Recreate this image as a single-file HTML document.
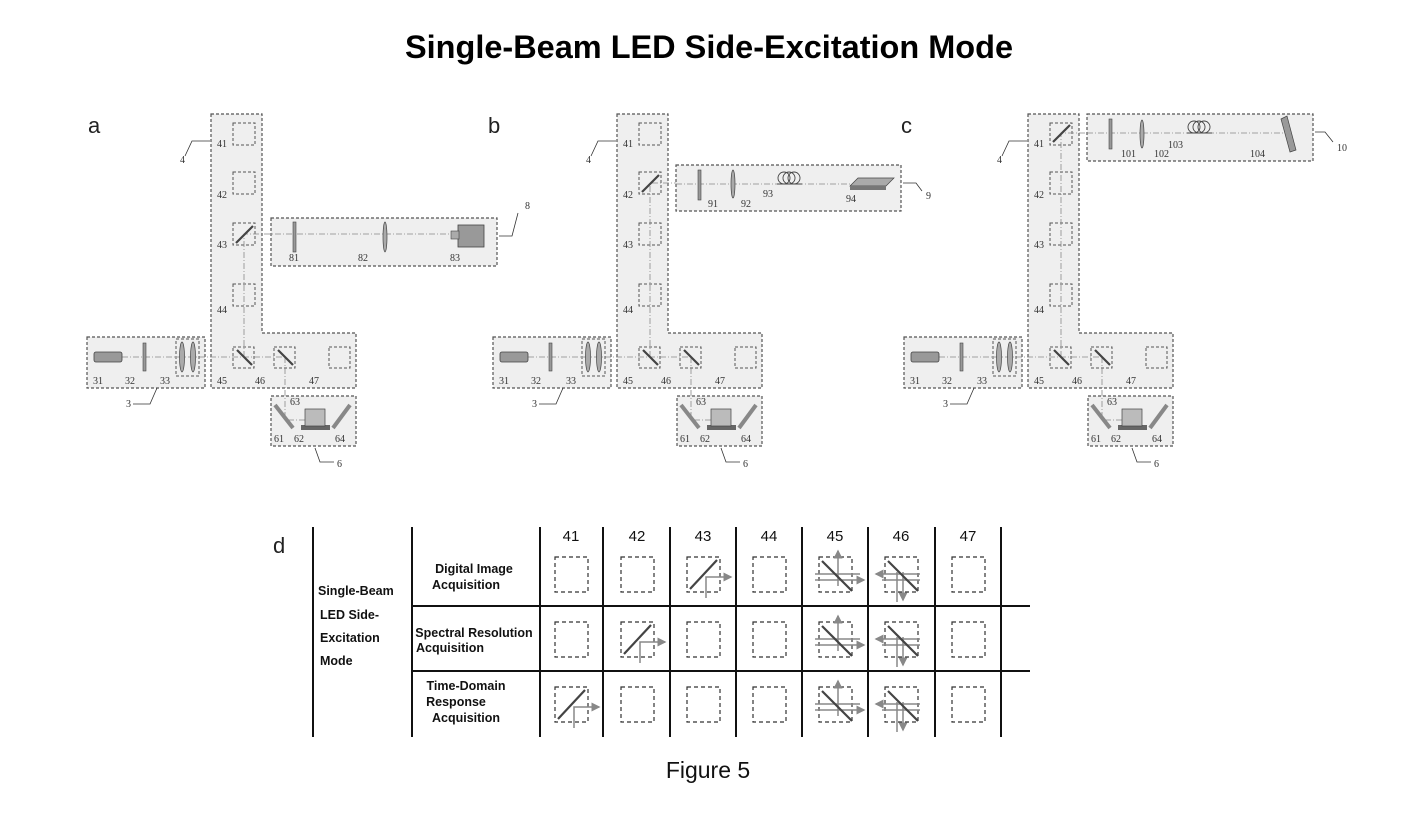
<!DOCTYPE html>
<html><head><meta charset="utf-8"><style>
html,body{margin:0;padding:0;background:#fff;width:1416px;height:818px;overflow:hidden}
svg{display:block}
.r{fill:#efefef;stroke:#555;stroke-width:1.2;stroke-dasharray:3,2}
.b{fill:none;stroke:#555;stroke-width:1;stroke-dasharray:3,2}
.bm{stroke:#888;stroke-width:0.8;stroke-dasharray:6,2,1,2;fill:none}
.t{font-family:"Liberation Serif",serif;font-size:10px;fill:#333}
.l{stroke:#333;stroke-width:0.8;fill:none}
.m{stroke:#444;stroke-width:2.2}
.tb{font-family:"Liberation Sans",sans-serif;font-size:12.5px;font-weight:bold;fill:#111}
.hd{font-family:"Liberation Sans",sans-serif;font-size:15px;fill:#111}
.db{fill:none;stroke:#333;stroke-width:1.2;stroke-dasharray:4,3}
.ar{stroke:#888;stroke-width:1.5;fill:none}
</style></head><body>
<svg width="1416" height="818" viewBox="0 0 1416 818" xmlns="http://www.w3.org/2000/svg">
<defs><marker id="ah" markerWidth="6" markerHeight="6" refX="5" refY="3" orient="auto"><path d="M0,0L6,3L0,6z" fill="#888"/></marker></defs>
<text x="709" y="58" text-anchor="middle" font-family="Liberation Sans, sans-serif" font-size="32" font-weight="bold" fill="#000" textLength="608" lengthAdjust="spacingAndGlyphs">Single-Beam LED Side-Excitation Mode</text>
<text x="88" y="133" font-family="Liberation Sans, sans-serif" font-size="22" fill="#222">a</text>
<text x="488" y="133" font-family="Liberation Sans, sans-serif" font-size="22" fill="#222">b</text>
<text x="901" y="133" font-family="Liberation Sans, sans-serif" font-size="22" fill="#222">c</text>

<!-- PANEL A -->
<g>
<path class="r" d="M211,114H262V333H356V388H211Z"/>
<rect class="r" x="87" y="337" width="118" height="51"/>
<rect class="r" x="271" y="396" width="85" height="50"/>
<rect class="r" x="271" y="218" width="226" height="48"/>
<rect class="b" x="233" y="123" width="22" height="22"/><rect class="b" x="233" y="172" width="22" height="22"/>
<rect class="b" x="233" y="223" width="22" height="22"/><rect class="b" x="233" y="284" width="22" height="22"/>
<rect class="b" x="233" y="347" width="21" height="21"/><rect class="b" x="274" y="347" width="21" height="21"/>
<rect class="b" x="329" y="347" width="21" height="21"/>
<path class="bm" d="M122,357H285M244,357V234H455M285,357V420H305"/>
<line class="m" x1="236" y1="243" x2="253" y2="226" stroke-width="1.6"/>
<line class="m" x1="237" y1="350" x2="252" y2="365" stroke-width="1.6"/>
<line class="m" x1="278" y1="350" x2="293" y2="365" stroke-width="1.6"/>
<rect x="94" y="352" width="28" height="10" rx="2" fill="#999" stroke="#444" stroke-width=".8"/>
<rect x="143" y="343" width="3" height="28" fill="#999" stroke="#444" stroke-width=".6"/>
<rect class="b" x="176" y="339" width="23" height="37"/>
<ellipse cx="182" cy="357" rx="2.5" ry="15" fill="#aaa" stroke="#444" stroke-width=".7"/>
<ellipse cx="193" cy="357" rx="2.5" ry="15" fill="#aaa" stroke="#444" stroke-width=".7"/>
<rect x="293" y="222" width="3" height="30" fill="#999" stroke="#444" stroke-width=".6"/>
<ellipse cx="385" cy="237" rx="2" ry="15" fill="#aaa" stroke="#444" stroke-width=".7"/>
<rect x="458" y="225" width="26" height="22" fill="#999" stroke="#444" stroke-width=".8"/><rect x="451" y="231" width="8" height="8" fill="#aaa" stroke="#444" stroke-width=".6"/>
<line x1="275" y1="405" x2="293" y2="428" stroke="#888" stroke-width="4"/><line x1="333" y1="428" x2="350" y2="405" stroke="#888" stroke-width="4"/>
<rect x="301" y="425" width="29" height="5" fill="#666"/><rect x="305" y="409" width="20" height="17" fill="#bbb" stroke="#444" stroke-width=".7"/>
<text class="t" x="217" y="147">41</text><text class="t" x="217" y="198">42</text><text class="t" x="217" y="248">43</text><text class="t" x="217" y="313">44</text>
<text class="t" x="217" y="384">45</text><text class="t" x="255" y="384">46</text><text class="t" x="309" y="384">47</text>
<text class="t" x="180" y="163">4</text><path class="l" d="M185,156L192,141H210"/>
<text class="t" x="93" y="384">31</text><text class="t" x="125" y="384">32</text><text class="t" x="160" y="384">33</text>
<text class="t" x="126" y="407">3</text><path class="l" d="M133,404H150L157,388"/>
<text class="t" x="289" y="261">81</text><text class="t" x="358" y="261">82</text><text class="t" x="450" y="261">83</text>
<text class="t" x="525" y="209">8</text><path class="l" d="M518,213L512,236H499"/>
<text class="t" x="290" y="405">63</text><text class="t" x="274" y="442">61</text><text class="t" x="294" y="442">62</text><text class="t" x="335" y="442">64</text>
<text class="t" x="337" y="467">6</text><path class="l" d="M315,448L320,462H334"/>
</g>

<!-- PANEL B -->
<g transform="translate(406,0)">
<path class="r" d="M211,114H262V333H356V388H211Z"/>
<rect class="r" x="87" y="337" width="118" height="51"/>
<rect class="r" x="271" y="396" width="85" height="50"/>
<rect class="b" x="233" y="123" width="22" height="22"/><rect class="b" x="233" y="172" width="22" height="22"/>
<rect class="b" x="233" y="223" width="22" height="22"/><rect class="b" x="233" y="284" width="22" height="22"/>
<rect class="b" x="233" y="347" width="21" height="21"/><rect class="b" x="274" y="347" width="21" height="21"/>
<rect class="b" x="329" y="347" width="21" height="21"/>
<path class="bm" d="M122,357H285M244,357V183H270M285,357V420H305"/>
<line class="m" x1="236" y1="192" x2="253" y2="175" stroke-width="1.6"/>
<line class="m" x1="237" y1="350" x2="252" y2="365" stroke-width="1.6"/>
<line class="m" x1="278" y1="350" x2="293" y2="365" stroke-width="1.6"/>
<rect x="94" y="352" width="28" height="10" rx="2" fill="#999" stroke="#444" stroke-width=".8"/>
<rect x="143" y="343" width="3" height="28" fill="#999" stroke="#444" stroke-width=".6"/>
<rect class="b" x="176" y="339" width="23" height="37"/>
<ellipse cx="182" cy="357" rx="2.5" ry="15" fill="#aaa" stroke="#444" stroke-width=".7"/>
<ellipse cx="193" cy="357" rx="2.5" ry="15" fill="#aaa" stroke="#444" stroke-width=".7"/>
<line x1="275" y1="405" x2="293" y2="428" stroke="#888" stroke-width="4"/><line x1="333" y1="428" x2="350" y2="405" stroke="#888" stroke-width="4"/>
<rect x="301" y="425" width="29" height="5" fill="#666"/><rect x="305" y="409" width="20" height="17" fill="#bbb" stroke="#444" stroke-width=".7"/>
<text class="t" x="217" y="147">41</text><text class="t" x="217" y="198">42</text><text class="t" x="217" y="248">43</text><text class="t" x="217" y="313">44</text>
<text class="t" x="217" y="384">45</text><text class="t" x="255" y="384">46</text><text class="t" x="309" y="384">47</text>
<text class="t" x="180" y="163">4</text><path class="l" d="M185,156L192,141H210"/>
<text class="t" x="93" y="384">31</text><text class="t" x="125" y="384">32</text><text class="t" x="160" y="384">33</text>
<text class="t" x="126" y="407">3</text><path class="l" d="M133,404H150L157,388"/>
<text class="t" x="290" y="405">63</text><text class="t" x="274" y="442">61</text><text class="t" x="294" y="442">62</text><text class="t" x="335" y="442">64</text>
<text class="t" x="337" y="467">6</text><path class="l" d="M315,448L320,462H334"/>
</g>
<rect class="r" x="676" y="165" width="225" height="46"/>
<path class="bm" d="M676,184H860"/>
<rect x="698" y="170" width="3" height="30" fill="#999" stroke="#444" stroke-width=".6"/>
<ellipse cx="733" cy="184" rx="2" ry="14" fill="#aaa" stroke="#444" stroke-width=".7"/>
<g fill="none" stroke="#444" stroke-width=".9"><circle cx="784" cy="178" r="6"/><circle cx="789" cy="178" r="6"/><circle cx="794" cy="178" r="6"/><line x1="777" y1="184" x2="802" y2="184"/></g>
<path d="M850,186L858,178H894L886,186Z" fill="#aaa" stroke="#444" stroke-width=".7"/><rect x="850" y="186" width="36" height="4" fill="#777"/>
<text class="t" x="708" y="207">91</text><text class="t" x="741" y="207">92</text><text class="t" x="763" y="197">93</text><text class="t" x="846" y="202">94</text>
<text class="t" x="926" y="199">9</text><path class="l" d="M922,191L916,183H903"/>

<!-- PANEL C -->
<g transform="translate(817,0)">
<path class="r" d="M211,114H262V333H356V388H211Z"/>
<rect class="r" x="87" y="337" width="118" height="51"/>
<rect class="r" x="271" y="396" width="85" height="50"/>
<rect class="b" x="233" y="123" width="22" height="22"/><rect class="b" x="233" y="172" width="22" height="22"/>
<rect class="b" x="233" y="223" width="22" height="22"/><rect class="b" x="233" y="284" width="22" height="22"/>
<rect class="b" x="233" y="347" width="21" height="21"/><rect class="b" x="274" y="347" width="21" height="21"/>
<rect class="b" x="329" y="347" width="21" height="21"/>
<path class="bm" d="M122,357H285M244,357V133H270M285,357V420H305"/>
<line class="m" x1="236" y1="142" x2="253" y2="125" stroke-width="1.6"/>
<line class="m" x1="237" y1="350" x2="252" y2="365" stroke-width="1.6"/>
<line class="m" x1="278" y1="350" x2="293" y2="365" stroke-width="1.6"/>
<rect x="94" y="352" width="28" height="10" rx="2" fill="#999" stroke="#444" stroke-width=".8"/>
<rect x="143" y="343" width="3" height="28" fill="#999" stroke="#444" stroke-width=".6"/>
<rect class="b" x="176" y="339" width="23" height="37"/>
<ellipse cx="182" cy="357" rx="2.5" ry="15" fill="#aaa" stroke="#444" stroke-width=".7"/>
<ellipse cx="193" cy="357" rx="2.5" ry="15" fill="#aaa" stroke="#444" stroke-width=".7"/>
<line x1="275" y1="405" x2="293" y2="428" stroke="#888" stroke-width="4"/><line x1="333" y1="428" x2="350" y2="405" stroke="#888" stroke-width="4"/>
<rect x="301" y="425" width="29" height="5" fill="#666"/><rect x="305" y="409" width="20" height="17" fill="#bbb" stroke="#444" stroke-width=".7"/>
<text class="t" x="217" y="147">41</text><text class="t" x="217" y="198">42</text><text class="t" x="217" y="248">43</text><text class="t" x="217" y="313">44</text>
<text class="t" x="217" y="384">45</text><text class="t" x="255" y="384">46</text><text class="t" x="309" y="384">47</text>
<text class="t" x="180" y="163">4</text><path class="l" d="M185,156L192,141H210"/>
<text class="t" x="93" y="384">31</text><text class="t" x="125" y="384">32</text><text class="t" x="160" y="384">33</text>
<text class="t" x="126" y="407">3</text><path class="l" d="M133,404H150L157,388"/>
<text class="t" x="290" y="405">63</text><text class="t" x="274" y="442">61</text><text class="t" x="294" y="442">62</text><text class="t" x="335" y="442">64</text>
<text class="t" x="337" y="467">6</text><path class="l" d="M315,448L320,462H334"/>
</g>
<rect class="r" x="1087" y="114" width="226" height="47"/>
<path class="bm" d="M1087,133H1290"/>
<rect x="1109" y="119" width="3" height="30" fill="#999" stroke="#444" stroke-width=".6"/>
<ellipse cx="1142" cy="134" rx="2" ry="14" fill="#aaa" stroke="#444" stroke-width=".7"/>
<g fill="none" stroke="#444" stroke-width=".9"><circle cx="1194" cy="127" r="6"/><circle cx="1199" cy="127" r="6"/><circle cx="1204" cy="127" r="6"/><line x1="1187" y1="133" x2="1212" y2="133"/></g>
<path d="M1281,119L1287,116L1296,150L1290,152Z" fill="#999" stroke="#444" stroke-width=".7"/>
<text class="t" x="1121" y="157">101</text><text class="t" x="1154" y="157">102</text><text class="t" x="1168" y="148">103</text><text class="t" x="1250" y="157">104</text>
<text class="t" x="1337" y="151">10</text><path class="l" d="M1333,142L1325,132H1315"/>

<!-- TABLE D -->
<text x="273" y="553" font-family="Liberation Sans, sans-serif" font-size="22" fill="#222">d</text>
<g stroke="#111" stroke-width="2">
<line x1="313" y1="527" x2="313" y2="737"/><line x1="412" y1="527" x2="412" y2="737"/>
<line x1="540" y1="527" x2="540" y2="737"/><line x1="603" y1="527" x2="603" y2="737"/>
<line x1="670" y1="527" x2="670" y2="737"/><line x1="736" y1="527" x2="736" y2="737"/>
<line x1="802" y1="527" x2="802" y2="737"/><line x1="868" y1="527" x2="868" y2="737"/>
<line x1="935" y1="527" x2="935" y2="737"/><line x1="1001" y1="527" x2="1001" y2="737"/>
<line x1="412" y1="606" x2="1030" y2="606"/><line x1="412" y1="671" x2="1030" y2="671"/>
</g>
<g class="hd" text-anchor="middle">
<text x="571" y="541">41</text><text x="637" y="541">42</text><text x="703" y="541">43</text><text x="769" y="541">44</text><text x="835" y="541">45</text><text x="901" y="541">46</text><text x="968" y="541">47</text>
</g>
<g class="tb">
<text x="318" y="595">Single-Beam</text><text x="320" y="619">LED Side-</text><text x="320" y="642">Excitation</text><text x="320" y="665">Mode</text>
<text x="474" y="573" text-anchor="middle">Digital Image</text><text x="466" y="589" text-anchor="middle">Acquisition</text>
<text x="474" y="637" text-anchor="middle">Spectral Resolution</text><text x="450" y="652" text-anchor="middle">Acquisition</text>
<text x="466" y="690" text-anchor="middle">Time-Domain</text><text x="456" y="706" text-anchor="middle">Response</text><text x="466" y="722" text-anchor="middle">Acquisition</text>
</g>
<g class="db">
<rect x="555" y="557" width="33" height="35"/><rect x="621" y="557" width="33" height="35"/><rect x="687" y="557" width="33" height="35"/><rect x="753" y="557" width="33" height="35"/><rect x="819" y="557" width="33" height="35"/><rect x="885" y="557" width="33" height="35"/><rect x="952" y="557" width="33" height="35"/>
<rect x="555" y="622" width="33" height="35"/><rect x="621" y="622" width="33" height="35"/><rect x="687" y="622" width="33" height="35"/><rect x="753" y="622" width="33" height="35"/><rect x="819" y="622" width="33" height="35"/><rect x="885" y="622" width="33" height="35"/><rect x="952" y="622" width="33" height="35"/>
<rect x="555" y="687" width="33" height="35"/><rect x="621" y="687" width="33" height="35"/><rect x="687" y="687" width="33" height="35"/><rect x="753" y="687" width="33" height="35"/><rect x="819" y="687" width="33" height="35"/><rect x="885" y="687" width="33" height="35"/><rect x="952" y="687" width="33" height="35"/>
</g>
<path class="ar" d="M706,598V577H731" marker-end="url(#ah)"/><line class="m" x1="690" y1="589" x2="717" y2="560" stroke-width="3"/>
<path class="ar" d="M640,663V642H665" marker-end="url(#ah)"/><line class="m" x1="624" y1="654" x2="651" y2="625" stroke-width="3"/>
<path class="ar" d="M574,728V707H599" marker-end="url(#ah)"/><line class="m" x1="558" y1="719" x2="585" y2="690" stroke-width="3"/>
<g>
<path class="ar" d="M838,586V551" marker-end="url(#ah)"/><path class="ar" d="M815,574H860"/><path class="ar" d="M815,580H864" marker-end="url(#ah)"/><line class="m" x1="822" y1="561" x2="852" y2="591" stroke-width="3"/>
<path class="ar" d="M920,574H876" marker-end="url(#ah)"/><path class="ar" d="M882,580H920"/><path class="ar" d="M897,572V602M903,572V600" marker-end="url(#ah)"/><line class="m" x1="888" y1="561" x2="918" y2="591" stroke-width="3"/>
</g>
<g transform="translate(0,65)">
<path class="ar" d="M838,586V551" marker-end="url(#ah)"/><path class="ar" d="M815,574H860"/><path class="ar" d="M815,580H864" marker-end="url(#ah)"/><line class="m" x1="822" y1="561" x2="852" y2="591" stroke-width="3"/>
<path class="ar" d="M920,574H876" marker-end="url(#ah)"/><path class="ar" d="M882,580H920"/><path class="ar" d="M897,572V602M903,572V600" marker-end="url(#ah)"/><line class="m" x1="888" y1="561" x2="918" y2="591" stroke-width="3"/>
</g>
<g transform="translate(0,130)">
<path class="ar" d="M838,586V551" marker-end="url(#ah)"/><path class="ar" d="M815,574H860"/><path class="ar" d="M815,580H864" marker-end="url(#ah)"/><line class="m" x1="822" y1="561" x2="852" y2="591" stroke-width="3"/>
<path class="ar" d="M920,574H876" marker-end="url(#ah)"/><path class="ar" d="M882,580H920"/><path class="ar" d="M897,572V602M903,572V600" marker-end="url(#ah)"/><line class="m" x1="888" y1="561" x2="918" y2="591" stroke-width="3"/>
</g>
<text x="708" y="778" text-anchor="middle" font-family="Liberation Sans, sans-serif" font-size="23" fill="#111">Figure 5</text>
</svg>
</body></html>
